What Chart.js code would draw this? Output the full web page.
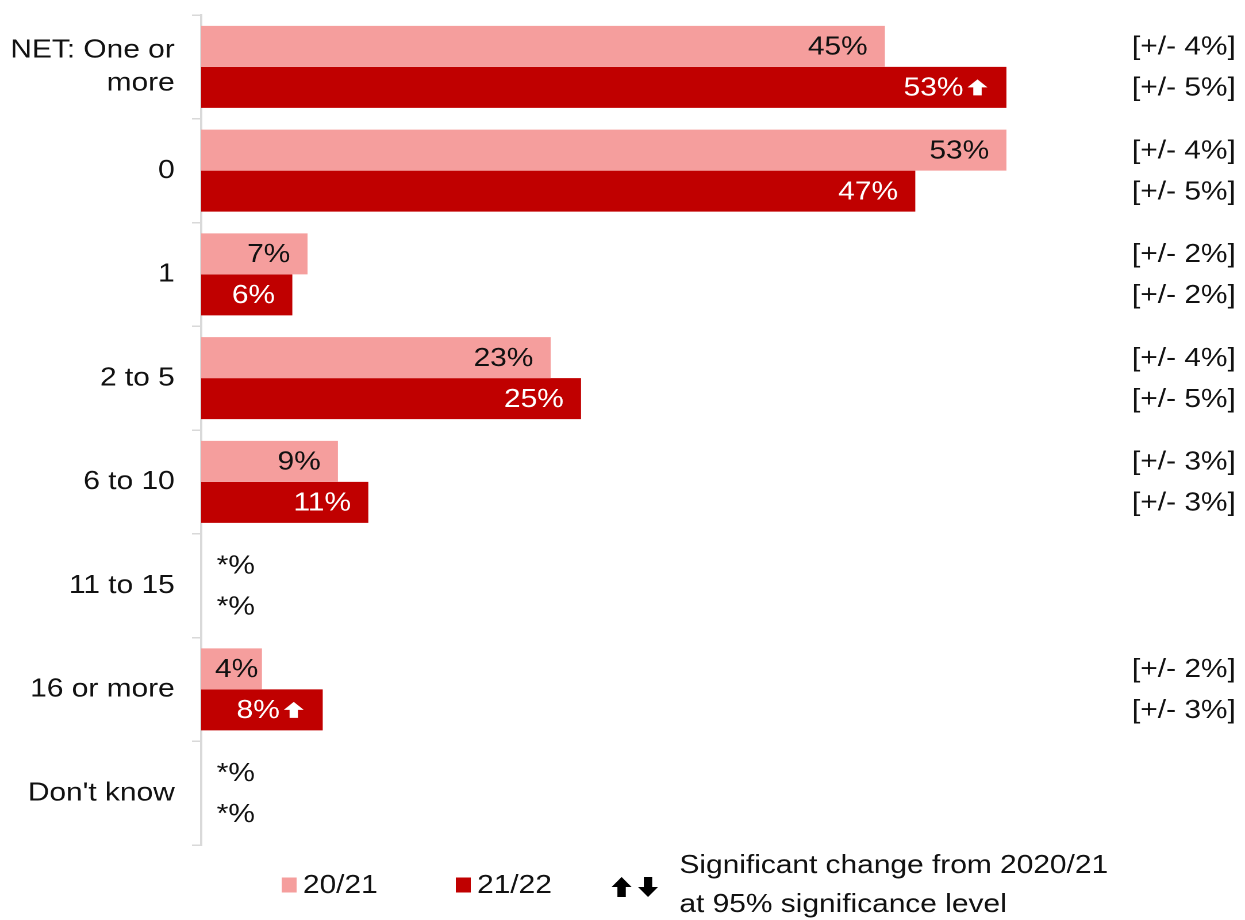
<!DOCTYPE html>
<html lang="en">
<head>
    <meta charset="UTF-8">
    <title>Number of occasions</title>
    <script src="https://cdn.jsdelivr.net/npm/chart.js"></script>
    <style>
        html, body { margin: 0; padding: 0; background: #fff; overflow: hidden; }
        /* drawn at 1083 wide and widened to the page width */
        #occasionsChart { width: 1245px !important; height: 920px !important; display: block; }
    </style>
</head>
<body>
    <canvas id="occasionsChart" width="1083" height="920" style="width:1245px;height:920px"></canvas>
    <script>
        const categories = [['NET: One or', 'more'], '0', '1', '2 to 5', '6 to 10', '11 to 15', '16 or more', "Don't know"];
        // percentages; 0 is shown as *%
        const share2021 = [45, 53, 7, 23, 9, 0, 4, 0];
        const share2122 = [53, 47, 6, 25, 11, 0, 8, 0];
        // significant change vs 2020/21
        const change2122 = ['up', null, null, null, null, null, 'up', null];
        // margin of error, +/- points
        const moe2021 = [4, 4, 2, 4, 3, null, 2, null];
        const moe2122 = [5, 5, 2, 5, 3, null, 3, null];
        const seriesNames = ['20/21', '21/22'];
        const noteLines = ['Significant change from 2020/21', 'at 95% significance level'];

        const FONT = "'Liberation Sans', Arial, sans-serif";
        const FS = 26;
        const PINK = '#f59e9d';
        const RED = '#c00000';
        const TEXT = '#111';

        Chart.defaults.font.family = FONT;

        function blockArrow(ctx, x, yc, w, h, dir, color) {
            const head = h * 0.5, stem = w * 0.42;
            const cx = x + w / 2;
            const top = yc - h / 2, bot = yc + h / 2;
            ctx.save();
            ctx.fillStyle = color;
            ctx.beginPath();
            if (dir === 'up') {
                ctx.moveTo(cx, top);
                ctx.lineTo(x + w, top + head);
                ctx.lineTo(cx + stem / 2, top + head);
                ctx.lineTo(cx + stem / 2, bot);
                ctx.lineTo(cx - stem / 2, bot);
                ctx.lineTo(cx - stem / 2, top + head);
                ctx.lineTo(x, top + head);
            } else {
                ctx.moveTo(cx, bot);
                ctx.lineTo(x + w, bot - head);
                ctx.lineTo(cx + stem / 2, bot - head);
                ctx.lineTo(cx + stem / 2, top);
                ctx.lineTo(cx - stem / 2, top);
                ctx.lineTo(cx - stem / 2, bot - head);
                ctx.lineTo(x, bot - head);
            }
            ctx.closePath();
            ctx.fill();
            ctx.restore();
        }

        const barText = {
            id: 'barText',
            afterDatasetsDraw(chart) {
                const ctx = chart.ctx;
                const moe = [moe2021, moe2122];
                const right = chart.width - 8;
                ctx.save();
                ctx.font = `${FS}px ${FONT}`;
                ctx.textBaseline = 'middle';
                chart.data.datasets.forEach((ds, di) => {
                    const meta = chart.getDatasetMeta(di);
                    meta.data.forEach((bar, i) => {
                        const v = ds.data[i];
                        const y = bar.y + 1;
                        if (v === 0) {
                            ctx.fillStyle = TEXT;
                            ctx.textAlign = 'left';
                            ctx.fillText('*%', bar.base + 13.5, y);
                        } else {
                            const txt = v + '%';
                            const tw = ctx.measureText(txt).width;
                            const arrow = di === 1 ? change2122[i] : null;
                            let end;
                            if (arrow) {
                                const ax = bar.x - 16.5 - 17.4;
                                blockArrow(ctx, ax, bar.y, 17.4, 16, arrow, '#fff');
                                end = ax - 3.5;
                            } else {
                                end = Math.max(bar.x - 15, bar.base + 12 + tw);
                            }
                            ctx.fillStyle = di === 0 ? TEXT : '#fff';
                            ctx.textAlign = 'right';
                            ctx.fillText(txt, end, y);
                        }
                        const m = moe[di][i];
                        if (m !== null) {
                            ctx.fillStyle = TEXT;
                            ctx.textAlign = 'right';
                            ctx.fillText(`[+/- ${m}%]`, right, y);
                        }
                    });
                });
                ctx.restore();
            },
            afterDraw(chart) {
                // legend row under the plot
                const ctx = chart.ctx;
                const yc = 885;
                const items = [[245, PINK], [396.5, RED]];
                ctx.save();
                ctx.font = `${FS}px ${FONT}`;
                ctx.textBaseline = 'middle';
                ctx.textAlign = 'left';
                items.forEach(([x, col], k) => {
                    ctx.fillStyle = col;
                    ctx.fillRect(x, yc - 7.5, 13, 15);
                    ctx.fillStyle = TEXT;
                    ctx.fillText(seriesNames[k], x + 18.5, yc + 1);
                });
                blockArrow(ctx, 532, 887, 17.4, 20, 'up', '#000');
                blockArrow(ctx, 555, 887, 17.4, 20, 'down', '#000');
                ctx.fillStyle = TEXT;
                ctx.fillText(noteLines[0], 591, 866);
                ctx.fillText(noteLines[1], 591, 905);
                ctx.restore();
            }
        };

        new Chart(document.getElementById('occasionsChart'), {
            type: 'bar',
            data: {
                labels: categories,
                datasets: [
                    { label: seriesNames[0], data: share2021, backgroundColor: PINK },
                    { label: seriesNames[1], data: share2122, backgroundColor: RED }
                ]
            },
            options: {
                indexAxis: 'y',
                responsive: false,
                devicePixelRatio: 2,
                animation: false,
                layout: { padding: { top: 15, right: 115, bottom: 75, left: 0 } },
                datasets: { bar: { categoryPercentage: 0.79, barPercentage: 1 } },
                scales: {
                    x: { display: false, min: 0, max: 60 },
                    y: {
                        afterFit(axis) {
                            axis.width = 175;
                            axis.paddingTop = 0;
                            axis.paddingBottom = 0;
                        },
                        grid: { drawOnChartArea: false, tickLength: 8, color: '#d9d9d9', lineWidth: 1.5 },
                        border: { color: '#d9d9d9', width: 2 },
                        ticks: { color: TEXT, padding: 15, font: { size: FS, lineHeight: 1.27 } }
                    }
                },
                plugins: { legend: { display: false }, tooltip: { enabled: false } }
            },
            plugins: [barText]
        });
    </script>
</body>
</html>
